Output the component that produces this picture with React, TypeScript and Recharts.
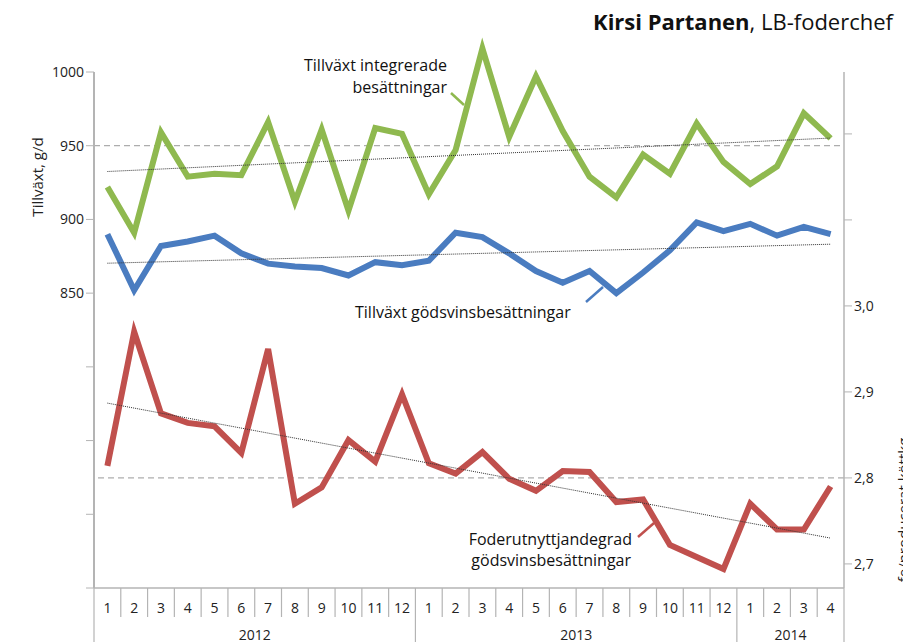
import {
  ComposedChart,
  Line,
  ReferenceLine,
  XAxis,
  YAxis,
} from "recharts";

const years = [2012, 2012, 2012, 2012, 2012, 2012, 2012, 2012, 2012, 2012, 2012, 2012,
  2013, 2013, 2013, 2013, 2013, 2013, 2013, 2013, 2013, 2013, 2013, 2013,
  2014, 2014, 2014, 2014];
const months = [1, 2, 3, 4, 5, 6, 7, 8, 9, 10, 11, 12,
  1, 2, 3, 4, 5, 6, 7, 8, 9, 10, 11, 12,
  1, 2, 3, 4];

// Tillväxt integrerade besättningar, g/d
const integrerade = [922, 891, 959, 929, 931, 930, 966, 912, 961, 906, 962, 958,
  917, 947, 1016, 956, 997, 960, 929, 915, 944, 931, 965, 939,
  924, 936, 972, 955];
// Tillväxt gödsvinsbesättningar, g/d
const godsvin = [890, 852, 882, 885, 889, 877, 870, 868, 867, 862, 871, 869,
  872, 891, 888, 877, 865, 857, 865, 850, 864, 879, 898, 892,
  897, 889, 895, 890];
// Foderutnyttjandegrad gödsvinsbesättningar, fe/producerat köttkg
const foder = [2.814, 2.970, 2.875, 2.864, 2.860, 2.829, 2.950, 2.770, 2.789, 2.844, 2.819, 2.897,
  2.817, 2.805, 2.830, 2.799, 2.785, 2.808, 2.807, 2.772, 2.775, 2.722, 2.708, 2.694,
  2.770, 2.740, 2.740, 2.790];

// trendlines: [start, end]
const trendIntegrerade = [932.5, 955.2];
const trendGodsvin = [870.3, 883.2];
const trendFoder = [2.887, 2.730];

const leftTicks = [650, 700, 750, 800, 850, 900, 950, 1000];
const rightTicks = [2.7, 2.8, 2.9, 3.0, 3.1, 3.2];

const data = months.map((m, i) => ({
  key: `${years[i]}-${m}`,
  month: m,
  year: years[i],
  integrerade: integrerade[i],
  godsvin: godsvin[i],
  foder: foder[i],
}));
const firstKey = data[0].key;
const lastKey = data[data.length - 1].key;

const GREEN = "#8fb94f";
const BLUE = "#4a7cc0";
const RED = "#c0504d";
const AXIS = "#b4b4b4";
const FONT = "'Open Sans', sans-serif";

// plot box; the top is raised above the 1000 line so the 2013 peak is not clipped
const PLOT_TOP = 30;
const AXIS_TOP = 72;
const PLOT_LEFT = 94;
const PLOT_RIGHT = 844;
const PLOT_BOTTOM = 588;
const BAND = (PLOT_RIGHT - PLOT_LEFT) / data.length;
const LEFT_PX_PER_UNIT = (PLOT_BOTTOM - AXIS_TOP) / 350;
const RIGHT_PX_PER_UNIT = 860;
const leftMax = 1000 + (AXIS_TOP - PLOT_TOP) / LEFT_PX_PER_UNIT;
const rightMax = 3.272 + (AXIS_TOP - PLOT_TOP) / RIGHT_PX_PER_UNIT;

function MonthTick(props: any) {
  const { x, index } = props;
  const d = data[index];
  if (!d) return null;
  const left = x - BAND / 2;
  const right = x + BAND / 2;
  const yearStart = index === 0 || data[index - 1].year !== d.year;
  const isLast = index === data.length - 1;
  const yearCount = data.filter((r) => r.year === d.year).length;
  return (
    <g>
      <line x1={left} x2={left} y1={PLOT_BOTTOM} y2={yearStart ? 642 : 617} stroke={AXIS} strokeWidth={1.2} />
      {isLast && <line x1={right} x2={right} y1={PLOT_BOTTOM} y2={642} stroke={AXIS} strokeWidth={1.2} />}
      <text x={x} y={607} textAnchor="middle" dominantBaseline="central" fontSize={14} fill="#222" fontFamily={FONT}>
        {d.month}
      </text>
      {yearStart && (
        <text x={left + (yearCount * BAND) / 2} y={634} textAnchor="middle" dominantBaseline="central" fontSize={14} fill="#222" fontFamily={FONT}>
          {d.year}
        </text>
      )}
    </g>
  );
}

export default function App() {
  return (
    <div style={{ position: "absolute", left: 0, top: 0, width: 903, height: 642, background: "#fff", fontFamily: FONT }}>
      <ComposedChart
        width={903}
        height={642}
        data={data}
        margin={{ top: PLOT_TOP, right: 0, left: 0, bottom: 0 }}
      >
        <XAxis
          dataKey="key"
          interval={0}
          height={54}
          padding={{ left: BAND / 2, right: BAND / 2 }}
          axisLine={{ stroke: AXIS, strokeWidth: 1.5 }}
          tickLine={false}
          tick={<MonthTick />}
        />
        <YAxis
          yAxisId="left"
          width={94}
          domain={[650, leftMax]}
          ticks={leftTicks}
          interval={0}
          axisLine={false}
          tickLine={{ stroke: AXIS }}
          tickSize={8}
          tick={{ fontSize: 14, fill: "#222", fontFamily: FONT }}
          tickFormatter={(v: number) => (v >= 850 ? String(v) : "")}
        />
        <YAxis
          yAxisId="right"
          orientation="right"
          width={59}
          domain={[2.672, rightMax]}
          ticks={rightTicks}
          interval={0}
          axisLine={false}
          tickLine={{ stroke: AXIS }}
          tickSize={8}
          tick={{ fontSize: 14, fill: "#222", fontFamily: FONT }}
          tickFormatter={(v: number) => (v <= 3.0001 ? v.toFixed(1).replace(".", ",") : "")}
        />
        <ReferenceLine yAxisId="left" y={950} stroke="#999" strokeDasharray="6 4" strokeWidth={1} />
        <ReferenceLine yAxisId="right" y={2.8} stroke="#999" strokeDasharray="6 4" strokeWidth={1} />
        <Line
          yAxisId="left"
          dataKey="integrerade"
          stroke={GREEN}
          strokeWidth={6}
          dot={false}
          isAnimationActive={false}
        />
        <Line
          yAxisId="left"
          dataKey="godsvin"
          stroke={BLUE}
          strokeWidth={6}
          dot={false}
          isAnimationActive={false}
        />
        <Line
          yAxisId="right"
          dataKey="foder"
          stroke={RED}
          strokeWidth={6}
          dot={false}
          isAnimationActive={false}
        />
        <ReferenceLine
          yAxisId="left"
          segment={[{ x: firstKey, y: trendIntegrerade[0] }, { x: lastKey, y: trendIntegrerade[1] }]}
          stroke="#333"
          strokeDasharray="1 1"
          strokeWidth={1}
        />
        <ReferenceLine
          yAxisId="left"
          segment={[{ x: firstKey, y: trendGodsvin[0] }, { x: lastKey, y: trendGodsvin[1] }]}
          stroke="#333"
          strokeDasharray="1 1"
          strokeWidth={1}
        />
        <ReferenceLine
          yAxisId="right"
          segment={[{ x: firstKey, y: trendFoder[0] }, { x: lastKey, y: trendFoder[1] }]}
          stroke="#333"
          strokeDasharray="1 1"
          strokeWidth={1}
        />
      </ComposedChart>
      <svg
        width={903}
        height={642}
        style={{ position: "absolute", left: 0, top: 0, pointerEvents: "none", overflow: "visible" }}
      >
        {/* value axes start at the 1000 line, not at the raised plot top */}
        <line x1={PLOT_LEFT} x2={PLOT_LEFT} y1={AXIS_TOP} y2={PLOT_BOTTOM} stroke={AXIS} strokeWidth={2} />
        <line x1={PLOT_RIGHT} x2={PLOT_RIGHT} y1={AXIS_TOP} y2={PLOT_BOTTOM} stroke={AXIS} strokeWidth={1.5} />

        <text x={893} y={30} textAnchor="end" fontSize={22} fill="#111" fontFamily={FONT}>
          <tspan fontWeight={700}>Kirsi Partanen</tspan>
          <tspan>, LB-foderchef</tspan>
        </text>
        <text
          transform="translate(37,177) rotate(-90)"
          textAnchor="middle"
          dominantBaseline="central"
          fontSize={15}
          fill="#222"
          fontFamily={FONT}
        >
          Tillväxt, g/d
        </text>
        <text
          transform="translate(903,510) rotate(-90)"
          textAnchor="middle"
          dominantBaseline="central"
          fontSize={15}
          fill="#222"
          fontFamily={FONT}
        >
          fe/producerat köttkg
        </text>

        <text x={447} y={65} textAnchor="end" dominantBaseline="central" fontSize={16} fill="#111" fontFamily={FONT}>
          Tillväxt integrerade
        </text>
        <text x={447} y={87} textAnchor="end" dominantBaseline="central" fontSize={16} fill="#111" fontFamily={FONT}>
          besättningar
        </text>
        <line x1={451} y1={93} x2={464} y2={105} stroke={GREEN} strokeWidth={2.5} />

        <text x={355} y={312} textAnchor="start" dominantBaseline="central" fontSize={16} fill="#111" fontFamily={FONT}>
          Tillväxt gödsvinsbesättningar
        </text>
        <line x1={586} y1={302} x2={603} y2={287} stroke={BLUE} strokeWidth={2.5} />

        <text x={632} y={539} textAnchor="end" dominantBaseline="central" fontSize={16} fill="#111" fontFamily={FONT}>
          Foderutnyttjandegrad
        </text>
        <text x={631} y={560} textAnchor="end" dominantBaseline="central" fontSize={16} fill="#111" fontFamily={FONT}>
          gödsvinsbesättningar
        </text>
        <line x1={638} y1={537} x2={654} y2={523} stroke={RED} strokeWidth={2.5} />
      </svg>
    </div>
  );
}
